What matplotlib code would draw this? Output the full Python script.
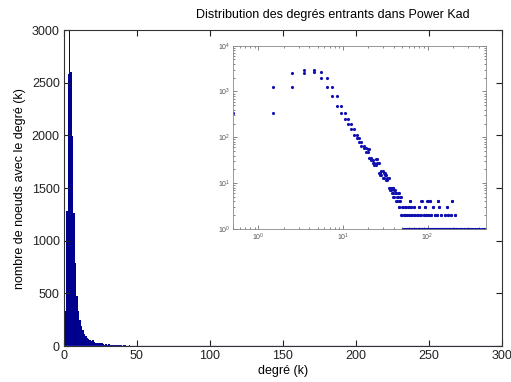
import numpy as np
import matplotlib
matplotlib.use("Agg")
import matplotlib.pyplot as plt
from matplotlib.ticker import LogLocator, NullFormatter

plt.rcParams['font.family'] = ['Liberation Sans', 'DejaVu Sans']

# ---- data: number of nodes per in-degree (degree 1..50) ----
head_degrees = list(range(1, 51))
head_counts = [336, 1280, 2580, 2990, 2600, 1995, 1260, 790, 475, 336,
               250, 195, 152, 113, 95, 78, 66, 58, 48, 56,
               36, 32, 28, 25, 34, 28, 17, 15, 18, 13,
               17, 15, 12, 13, 8, 7, 8, 6, 8, 5,
               7, 6, 4, 5, 6, 3, 4, 5, 2, 3]

# sparse tail (degree -> count)
tail_ones = [52, 54, 57, 58, 61, 63, 66, 68, 71, 73, 74, 77, 80, 83, 86, 88,
             91, 94, 97, 99, 103, 105, 108, 112, 116, 118, 121, 125, 128, 132,
             135, 139, 141, 146, 150, 153, 157, 162, 166, 171, 176, 181, 186,
             192, 197, 203, 210, 216, 223, 231, 240, 249, 258, 267, 278, 291,
             305, 322, 340, 362, 385, 410, 440, 470]
tail_twos = [53, 56, 60, 65, 70, 76, 82, 90, 96, 102, 110, 123, 130, 144,
             160, 174, 190, 212]
tail_threes = [55, 59, 64, 69, 79, 93, 115, 137, 168]
tail_fours = [62, 85, 100, 107, 134, 195]

title = "Distribution des degrés entrants dans Power Kad"
xlabel = "degré (k)"
ylabel = "nombre de noeuds avec le degré (k)"
x_ticks = [0, 50, 100, 150, 200, 250, 300]
y_ticks = [0, 500, 1000, 1500, 2000, 2500, 3000]

# ---- assemble full distribution ----
max_deg = 480
degrees = np.arange(1, max_deg + 1)
counts = np.zeros(max_deg)
counts[np.array(head_degrees) - 1] = head_counts
for lst, v in ((tail_ones, 1), (tail_twos, 2), (tail_threes, 3), (tail_fours, 4)):
    counts[np.array(lst) - 1] = v
edges = np.arange(0.5, max_deg + 1.5, 1.0)

navy = '#00008f'

fig = plt.figure(figsize=(5.11, 3.82), dpi=100)
ax = fig.add_axes([0.125, 0.094, 0.857, 0.827])
ax.stairs(counts, edges, fill=True, color=navy, linewidth=0)
ax.axhline(0, color='#8080e0', lw=1.0, zorder=3)
ax.set_xlim(0, 300)
ax.set_ylim(0, 3000)
ax.set_xticks(x_ticks)
ax.set_yticks(y_ticks)
ax.tick_params(direction='in', top=True, right=True, labelsize=9, length=4,
               width=0.8, pad=3, colors='#222222')
for s in ax.spines.values():
    s.set_color('#333333')
    s.set_linewidth(0.8)
fig.text(0.652, 0.962, title, fontsize=9, ha='center', va='center')
ax.set_xlabel(xlabel, fontsize=9, labelpad=2)
ax.set_ylabel(ylabel, fontsize=9, labelpad=4)

# ---- inset: log-log stairs points ----
ins = fig.add_axes([0.456, 0.4005, 0.495, 0.48])
xs = np.concatenate([edges[:-1], edges[1:]])
ys = np.concatenate([counts, counts])
m = ys > 0
ins.loglog(xs[m], ys[m], '.', color='#1010b0', markersize=2.5)
ins.set_xlim(0.5, 490)
ins.set_ylim(1, 1e4)
ins.xaxis.set_major_locator(LogLocator(base=10, numticks=10))
ins.yaxis.set_major_locator(LogLocator(base=10, numticks=10))
ins.xaxis.set_minor_locator(LogLocator(base=10, subs=np.arange(2, 10), numticks=20))
ins.yaxis.set_minor_locator(LogLocator(base=10, subs=np.arange(2, 10), numticks=20))
ins.xaxis.set_minor_formatter(NullFormatter())
ins.yaxis.set_minor_formatter(NullFormatter())
ins.tick_params(which='both', direction='in', top=True, right=True,
                labelsize=5, colors='#555555', width=0.5)
ins.tick_params(which='major', length=3, pad=2)
ins.tick_params(which='minor', length=1.5)
for s in ins.spines.values():
    s.set_color('#888888')
    s.set_linewidth(0.6)

fig.savefig('out.png', dpi=100)
